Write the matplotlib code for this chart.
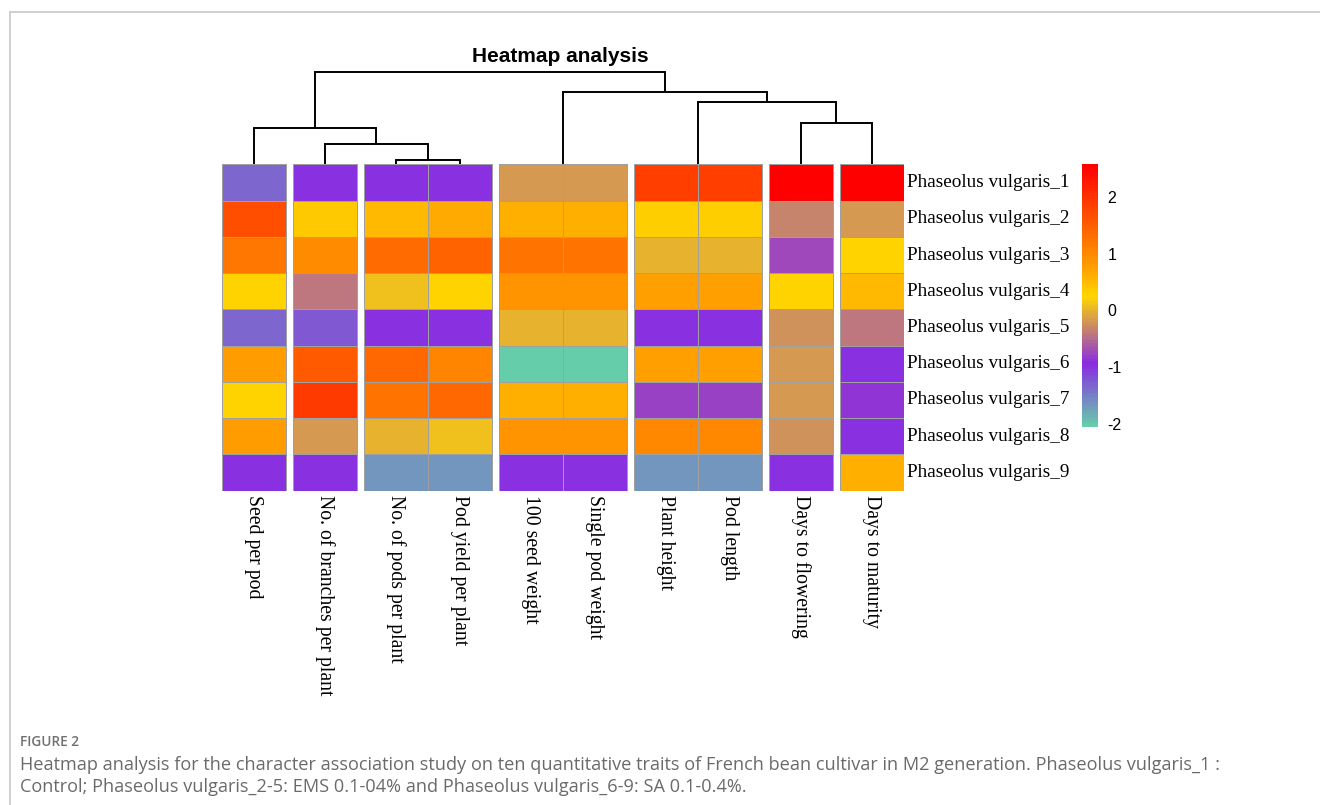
import numpy as np
import matplotlib
matplotlib.use("Agg")
import matplotlib.pyplot as plt
from matplotlib.colors import LinearSegmentedColormap, Normalize
from matplotlib.cm import ScalarMappable
from matplotlib.lines import Line2D

plt.rcParams["axes.unicode_minus"] = False

# ---------------- data ----------------
traits = ["Seed per pod", "No. of branches per plant", "No. of pods per plant",
          "Pod yield per plant", "100 seed weight", "Single pod weight",
          "Plant height", "Pod length", "Days to flowering", "Days to maturity"]
genotypes = ["Phaseolus vulgaris_1", "Phaseolus vulgaris_2", "Phaseolus vulgaris_3",
             "Phaseolus vulgaris_4", "Phaseolus vulgaris_5", "Phaseolus vulgaris_6",
             "Phaseolus vulgaris_7", "Phaseolus vulgaris_8", "Phaseolus vulgaris_9"]

# scaled values per trait (rows = genotypes 1..9)
seed_per_pod      = [-1.34, 1.67, 1.21, 0.30, -1.34, 0.81, 0.30, 0.81, -0.95]
branches_per_plant = [-0.95, 0.36, 1.00, -0.41, -1.24, 1.55, 1.90, -0.16, -0.95]
pods_per_plant    = [-0.95, 0.52, 1.33, 0.09, -0.95, 1.38, 1.27, -0.01, -1.68]
pod_yield         = [-0.95, 0.65, 1.44, 0.27, -0.95, 1.09, 1.38, 0.09, -1.68]
seed_weight_100   = [-0.16, 0.61, 1.27, 0.87, -0.01, -2.06, 0.61, 0.87, -0.95]
single_pod_weight = [-0.16, 0.61, 1.27, 0.87, -0.01, -2.06, 0.61, 0.87, -0.95]
plant_height      = [1.86, 0.34, -0.01, 0.76, -0.95, 0.76, -0.80, 1.04, -1.68]
pod_length        = [1.86, 0.34, -0.01, 0.76, -0.95, 0.76, -0.80, 1.04, -1.68]
days_flowering    = [2.58, -0.30, -0.72, 0.28, -0.21, -0.16, -0.16, -0.24, -0.95]
days_maturity     = [2.58, -0.16, 0.30, 0.52, -0.41, -0.95, -0.86, -0.95, 0.61]

# column dendrogram: (left child, right child, height); leaves 0..9, new nodes 10..
col_merges = [(4, 5, 0.0), (6, 7, 0.0), (2, 3, 0.046), (8, 9, 0.443),
              (1, 12, 0.225), (11, 13, 0.672), (0, 14, 0.389), (10, 15, 0.782),
              (16, 17, 1.0)]
col_gaps_after = [0, 1, 3, 5, 7, 8]   # column cuts (tree cut into 7 groups)

cbar_ticks = [-2, -1, 0, 1, 2]
vmin, vmax = -2.06, 2.58

# --------------- style ----------------
cmap = LinearSegmentedColormap.from_list(
    "hm", [(0.0, "#66CDAA"), ((-0.95 - vmin) / (vmax - vmin), "#8A2BE2"),
           ((0.25 - vmin) / (vmax - vmin), "#FFD700"),
           ((0.70 - vmin) / (vmax - vmin), "#FFA500"), (1.0, "#FF0000")], N=100)
norm = Normalize(vmin=vmin, vmax=vmax)

W, H = 1320, 805
fig = plt.figure(figsize=(W / 100, H / 100), dpi=100)
fig.patch.set_facecolor("white")

def fx(px):
    return px / W

def fy(py):
    return 1 - py / H

hm_left, hm_right, hm_top, hm_bot = 221.7, 904.0, 164.5, 490.5
ax = fig.add_axes([fx(hm_left), fy(hm_bot), fx(hm_right - hm_left), (hm_bot - hm_top) / H])
ax.set_xlim(0, hm_right - hm_left)
ax.set_ylim(hm_bot - hm_top, 0)
ax.axis("off")

data = np.column_stack([seed_per_pod, branches_per_plant, pods_per_plant, pod_yield,
                        seed_weight_100, single_pod_weight, plant_height, pod_length,
                        days_flowering, days_maturity])
nrow, ncol = data.shape
gap = 7.0
colw = ((hm_right - hm_left) - gap * len(col_gaps_after)) / ncol
rowh = (hm_bot - hm_top) / nrow
row_edges = np.arange(nrow + 1) * rowh

col_x0 = []
off = 0.0
for j in range(ncol):
    col_x0.append(j * colw + off)
    if j in col_gaps_after:
        off += gap
col_x0 = np.array(col_x0)
col_centers = col_x0 + colw / 2

for j in range(ncol):
    ax.pcolormesh([col_x0[j], col_x0[j] + colw], row_edges, data[:, j:j + 1],
                  cmap=cmap, norm=norm, edgecolor="#a0a0a0", linewidth=0.55)

serif = ["Liberation Serif", "DejaVu Serif"]
for i, g in enumerate(genotypes):
    ax.text(hm_right - hm_left + 3, (i + 0.5) * rowh, g, ha="left", va="center",
            family=serif, fontsize=13.8, color="black")
for j, t in enumerate(traits):
    ax.text(col_centers[j], hm_bot - hm_top + 4, t, rotation=270, ha="center", va="top",
            family=serif, fontsize=14.2, color="black")

# dendrogram
dtop = 71.7
dax = fig.add_axes([fx(hm_left), fy(hm_top), fx(hm_right - hm_left), (hm_top - dtop) / H])
dax.set_xlim(0, hm_right - hm_left)
dax.set_ylim(0, 1.0)
dax.axis("off")
node_x = {j: col_centers[j] for j in range(ncol)}
node_h = {j: 0.0 for j in range(ncol)}
for k, (a, b, h) in enumerate(col_merges):
    nid = ncol + k
    xa, xb = node_x[a], node_x[b]
    dax.plot([xa, xa], [node_h[a], h], color="black", lw=1.4, clip_on=False, solid_capstyle="butt")
    dax.plot([xb, xb], [node_h[b], h], color="black", lw=1.4, clip_on=False, solid_capstyle="butt")
    if h > 0:
        dax.plot([xa, xb], [h, h], color="black", lw=1.4, clip_on=False, solid_capstyle="projecting")
    node_x[nid] = (xa + xb) / 2
    node_h[nid] = h

fig.text(fx(560), fy(57), "Heatmap analysis", ha="center", va="center",
         family=["Liberation Sans", "DejaVu Sans"], fontweight="bold", fontsize=15)

# colorbar
cax = fig.add_axes([fx(1082), fy(427), fx(16), (427 - 164.5) / H])
cb = fig.colorbar(ScalarMappable(norm=norm, cmap=cmap), cax=cax, ticks=cbar_ticks)
cb.outline.set_visible(False)
cax.tick_params(length=0, pad=7, labelsize=11.5)
for lab in cax.get_yticklabels():
    lab.set_family(["Liberation Sans", "DejaVu Sans"])

# frame lines
fig.add_artist(Line2D([fx(10), 1.0], [fy(12), fy(12)], color="#cccccc", lw=1.3))
fig.add_artist(Line2D([fx(10), fx(10)], [fy(12), 0.0], color="#cccccc", lw=1.3))

# caption
cap_font = ["Open Sans", "DejaVu Sans"]
fig.text(fx(20), fy(742), "FIGURE 2", ha="left", va="center", family=cap_font,
         fontweight="semibold", fontsize=9.8, color="#707070")
fig.text(fx(20), fy(765),
         "Heatmap analysis for the character association study on ten quantitative traits of "
         "French bean cultivar in M2 generation. Phaseolus vulgaris_1 :",
         ha="left", va="center", family=cap_font, fontsize=13.1, color="#6a6a6a")
fig.text(fx(20), fy(787),
         "Control; Phaseolus vulgaris_2-5: EMS 0.1-04% and Phaseolus vulgaris_6-9: SA 0.1-0.4%.",
         ha="left", va="center", family=cap_font, fontsize=13.1, color="#6a6a6a")

fig.savefig("out.png", dpi=100, facecolor="white")
